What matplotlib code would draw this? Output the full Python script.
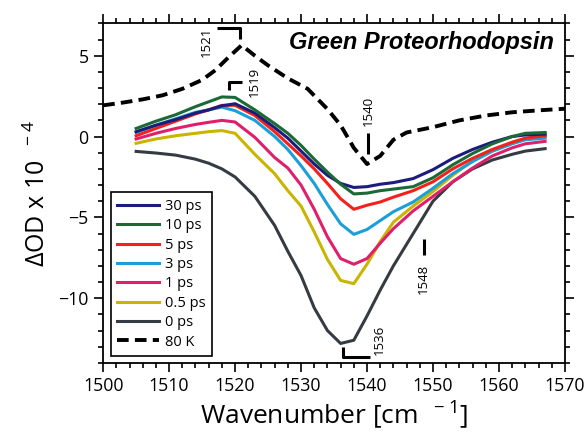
import numpy as np
import matplotlib
matplotlib.use('Agg')
import matplotlib.pyplot as plt
from matplotlib.ticker import MultipleLocator

plt.rcParams['font.family'] = ['Open Sans', 'DejaVu Sans']
plt.rcParams['mathtext.fontset'] = 'custom'
plt.rcParams['mathtext.rm'] = 'Open Sans'

# transient spectra (delta OD x 1e-4) on a common wavenumber grid
wn = [1505, 1508, 1511, 1514, 1516, 1518, 1520, 1523, 1526, 1528, 1530, 1532, 1534,
      1536, 1538, 1540, 1542, 1544, 1547, 1550, 1553, 1556, 1559, 1562, 1564, 1567]

ps30 = [0.3, 0.7, 1.05, 1.45, 1.65, 1.9, 2.03, 1.45, 0.55, -0.1, -0.9, -1.7, -2.4,
        -2.9, -3.15, -3.1, -2.95, -2.85, -2.6, -2.05, -1.35, -0.8, -0.35, 0.0, 0.1, 0.15]
ps10 = [0.5, 0.95, 1.35, 1.85, 2.15, 2.45, 2.42, 1.65, 0.8, 0.2, -0.55, -1.4, -2.2,
        -2.95, -3.55, -3.5, -3.35, -3.25, -3.1, -2.55, -1.75, -1.05, -0.45, 0.0, 0.2, 0.25]
ps5 = [0.05, 0.5, 0.95, 1.4, 1.65, 1.93, 1.93, 1.3, 0.3, -0.45, -1.2, -2.0, -2.9,
       -3.85, -4.5, -4.25, -4.05, -3.75, -3.35, -2.8, -2.0, -1.35, -0.8, -0.35, -0.1, 0.05]
ps3 = [0.25, 0.7, 1.1, 1.5, 1.65, 1.82, 1.6, 1.0, 0.0, -0.8, -1.8, -2.9, -4.2,
       -5.4, -6.05, -5.75, -5.2, -4.65, -4.05, -3.2, -2.3, -1.55, -0.9, -0.45, -0.2, -0.1]
ps1 = [-0.15, 0.2, 0.5, 0.75, 0.88, 1.0, 0.9, -0.05, -1.3, -1.95, -3.0, -4.5, -6.2,
       -7.55, -7.9, -7.55, -6.6, -5.7, -4.6, -3.7, -2.8, -1.95, -1.2, -0.7, -0.45, -0.3]
ps05 = [-0.42, -0.15, 0.05, 0.2, 0.3, 0.37, 0.2, -1.1, -2.3, -3.35, -4.3, -5.9, -7.6,
        -8.9, -9.1, -7.9, -6.5, -5.3, -4.3, -3.4, -2.4, -1.5, -0.9, -0.4, -0.15, 0.0]
ps0 = [-0.92, -1.02, -1.15, -1.4, -1.65, -2.0, -2.5, -3.7, -5.5, -7.1, -8.6, -10.6, -12.0,
       -12.8, -12.6, -11.1, -9.5, -8.0, -6.0, -4.0, -2.8, -2.0, -1.45, -1.1, -0.9, -0.75]

# steady-state 80 K difference spectrum
wn80 = [1500, 1503, 1506, 1509, 1512, 1515, 1517, 1519, 1521, 1523, 1525, 1528, 1531,
        1534, 1536, 1538, 1540, 1542, 1544, 1546, 1550, 1554, 1558, 1562, 1566, 1570]
k80 = [1.93, 2.1, 2.3, 2.55, 2.95, 3.5, 4.1, 4.9, 5.65, 5.0, 4.4, 3.6, 2.95,
       1.7, 0.7, -0.7, -1.7, -1.2, -0.2, 0.25, 0.58, 1.0, 1.3, 1.5, 1.62, 1.72]

labels = ['30 ps', '10 ps', '5 ps', '3 ps', '1 ps', '0.5 ps', '0 ps']
series = [ps30, ps10, ps5, ps3, ps1, ps05, ps0]
colors = ['#1c1c7c', '#1b6a35', '#f4201c', '#1a9fd6', '#e01f6c', '#c9b500', '#343b42']
zorders = [6, 7, 5, 4, 3, 2, 1]

fig = plt.figure(figsize=(5.86, 4.33), dpi=100)
ax = fig.add_axes([0.176, 0.162, 0.788, 0.784])

for y, c, lab, z in zip(series, colors, labels, zorders):
    ax.plot(wn, y, color=c, lw=2.2, label=lab, zorder=z)
ax.plot(wn80, k80, color='black', lw=2.8, ls=(0, (3, 1.6)), label='80 K', zorder=8)

ax.set_xlim(1500, 1570)
ax.set_ylim(-14, 7)
ax.xaxis.set_major_locator(MultipleLocator(10))
ax.xaxis.set_minor_locator(MultipleLocator(2))
ax.yaxis.set_major_locator(MultipleLocator(5))
ax.yaxis.set_minor_locator(MultipleLocator(1))
ax.tick_params(which='both', direction='out', top=True, right=True, width=1.2,
               labelsize=12.8, pad=4)
ax.tick_params(which='major', length=6.5)
ax.tick_params(which='minor', length=3.5)
for s in ax.spines.values():
    s.set_linewidth(1.3)

ax.set_xlabel(r'Wavenumber [cm$^{\ \ -1}$]', fontsize=19, labelpad=2)
ax.set_ylabel(r'ΔOD x 10$^{\ \ -4}$', fontsize=18, labelpad=5)

ax.text(1568.3, 5.8, 'Green Proteorhodopsin', ha='right', va='center',
        fontsize=17, fontweight='bold', fontstyle='italic',
        family='Liberation Sans', zorder=10)

# peak markers
ak = dict(color='black', lw=2.2, solid_capstyle='butt', zorder=9)
ax.plot([1517.2, 1520.7, 1520.7], [6.7, 6.7, 6.05], **ak)
ax.text(1515.6, 5.85, '1521', rotation=90, ha='center', va='center', fontsize=9.5)
ax.plot([1519.1, 1519.1, 1521.0], [2.85, 3.4, 3.4], **ak)
ax.text(1522.9, 3.4, '1519', rotation=90, ha='center', va='center', fontsize=9.5)
ax.plot([1540.2, 1540.2], [0.2, -1.1], **ak)
ax.text(1540.2, 1.6, '1540', rotation=90, ha='center', va='center', fontsize=9.5)
ax.plot([1548.6, 1548.6], [-6.35, -7.35], **ak)
ax.text(1548.6, -8.8, '1548', rotation=90, ha='center', va='center', fontsize=9.5)
ax.plot([1536.3, 1536.3, 1540.5], [-13.0, -13.65, -13.65], **ak)
ax.text(1541.9, -12.6, '1536', rotation=90, ha='center', va='center', fontsize=9.5)

leg = ax.legend(loc='lower left', bbox_to_anchor=(0.016, 0.02), fontsize=10.5,
                frameon=True, fancybox=False, edgecolor='black', framealpha=1,
                handlelength=2.9, handletextpad=0.4, labelspacing=0.3,
                borderpad=0.45, borderaxespad=0)
leg.get_frame().set_linewidth(1.2)
leg.set_zorder(20)

fig.savefig('out.png', dpi=100)
